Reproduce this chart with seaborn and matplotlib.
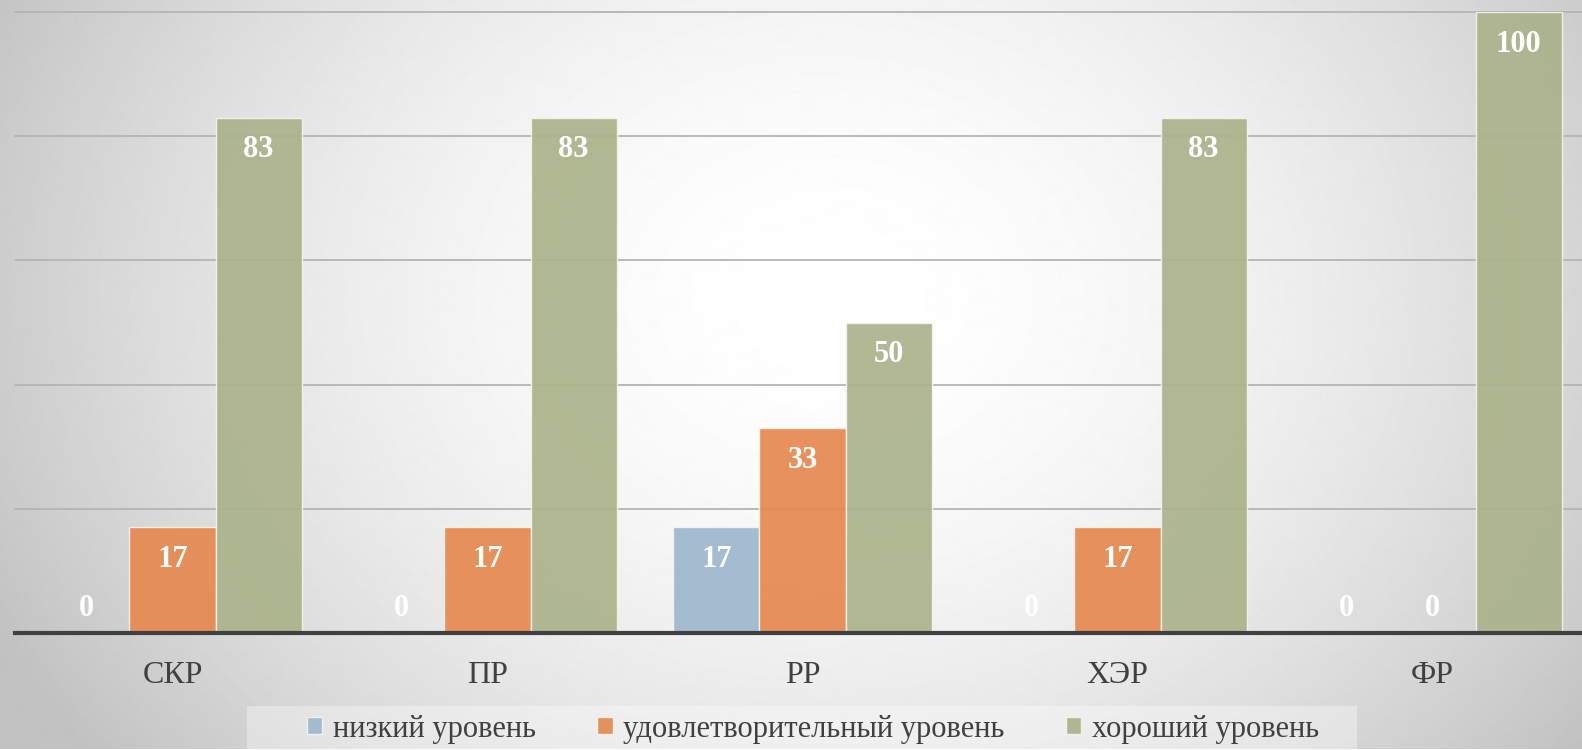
import numpy as np
import pandas as pd
import matplotlib
matplotlib.use("Agg")
import matplotlib.pyplot as plt
import seaborn as sns
from matplotlib.patches import Patch, Rectangle

categories = ["СКР", "ПР", "РР", "ХЭР", "ФР"]
levels = ["низкий уровень", "удовлетворительный уровень", "хороший уровень"]
low = [0, 0, 17, 0, 0]
satisfactory = [17, 17, 33, 17, 0]
good = [83, 83, 50, 83, 100]
colors = ["#9db8ce", "#e68a50", "#abb38b"]
yticks = [0, 20, 40, 60, 80, 100]

sns.set_style("white")
plt.rcParams["font.family"] = ["Liberation Serif", "DejaVu Serif"]

series = [low, satisfactory, good]
df = pd.DataFrame({
    "category": categories * 3,
    "level": [lv for lv in levels for _ in categories],
    "value": low + satisfactory + good,
})

W, H = 1582, 750
fig = plt.figure(figsize=(W / 100, H / 100), dpi=100)

# background gradient
bg = fig.add_axes([0, 0, 1, 1], zorder=-10)
bg.axis("off")
yy, xx = np.mgrid[0:H, 0:W]
d = np.sqrt(((xx - 830) / 740.0) ** 2 + ((yy - 300) / 600.0) ** 2)
g = np.clip(1 - 0.16 * d ** 1.8, 0.76, 1.0)
bg.imshow(g, cmap="gray", vmin=0, vmax=1, aspect="auto", interpolation="bilinear")
bg.set_xlim(0, W)
bg.set_ylim(H, 0)

ax = fig.add_axes([15 / W, 1 - 633 / H, 1575 / W, (633 - 12) / H])
ax.set_facecolor("none")

sns.barplot(data=df, x="category", y="value", hue="level", hue_order=levels,
            order=categories, palette=colors, saturation=1, width=0.82, errorbar=None,
            alpha=0.93, edgecolor="#f4f4ee", linewidth=1.0, legend=False, ax=ax)

ax.set_ylim(0, 100)
ax.set_xlim(-0.5, len(categories) - 0.5)
ax.set_yticks(yticks)
ax.yaxis.grid(True, color="#b4b4b4", linewidth=1.3)
ax.set_axisbelow(True)
for ln in ax.get_ygridlines():
    ln.set_clip_on(False)
ax.set_yticklabels([])
ax.tick_params(axis="y", length=0)
ax.tick_params(axis="x", length=0, pad=20, labelsize=23, labelcolor="#404040")
ax.set_xlabel("")
ax.set_ylabel("")
for s in ["top", "left", "right"]:
    ax.spines[s].set_visible(False)
ax.spines["bottom"].set_color("#404040")
ax.spines["bottom"].set_linewidth(3.0)
ax.spines["bottom"].set_zorder(5)

for cont, vals in zip(ax.containers, series):
    for bar, v in zip(cont, vals):
        x = bar.get_x() + bar.get_width() / 2
        ax.annotate(str(v), xy=(x, v), xytext=(0, -32 if v > 0 else 25),
                    textcoords="offset pixels", ha="center", va="center",
                    color="white", fontweight="bold", fontsize=22)

# legend area
fig.patches.append(Rectangle((247 / W, 0), 1110 / W, 44 / H, transform=fig.transFigure,
                             facecolor="white", alpha=0.35, edgecolor="none", zorder=-5))
handles = [Patch(facecolor=c, edgecolor="#f4f4ee", alpha=0.93, label=l) for c, l in zip(colors, levels)]
fig.legend(handles=handles, loc="center", bbox_to_anchor=(813 / W, 1 - 729 / H), ncol=3,
           frameon=False, fontsize=22, handlelength=0.5, handleheight=0.5,
           handletextpad=0.35, columnspacing=2.0, labelcolor="#404040")

fig.savefig("out.png", dpi=100)
